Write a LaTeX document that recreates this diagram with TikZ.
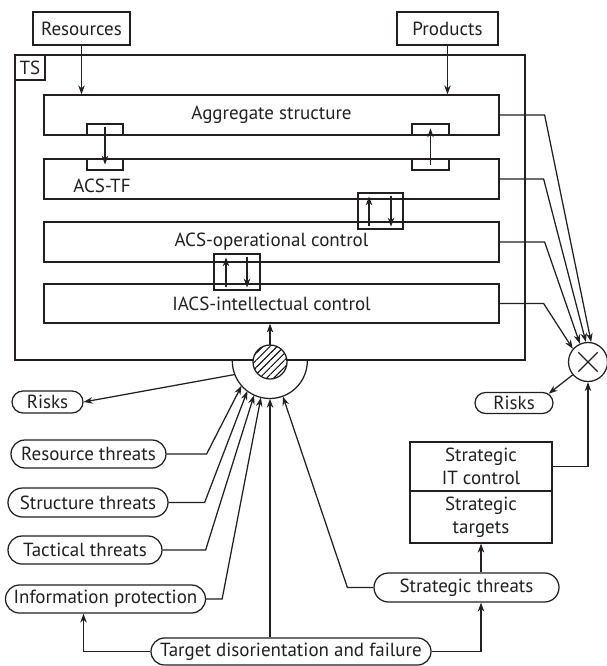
\documentclass[tikz,border=0pt]{standalone}
\usepackage{fontspec}
\setmainfont{PT Sans}
\usetikzlibrary{arrows.meta,shapes.misc,patterns.meta,calc}
\definecolor{ink}{HTML}{231F20}
\tikzset{
  every node/.style={font=\fontsize{19}{23}\selectfont, text=ink},
  wh/.style 2 args={minimum width=#1pt, minimum height=#2pt},
  box/.style={draw=ink, line width=1.25pt, rectangle, inner sep=0pt, align=center},
  pill/.style={draw=ink, line width=1.25pt, rounded rectangle, inner sep=0pt},
  link/.style={draw=ink, line width=1.25pt},
  arr/.style={link, -{Stealth[length=9pt,width=6.5pt]}},
}
\begin{document}
\begin{tikzpicture}[x=1pt,y=-1pt]
\useasboundingbox (0,0) rectangle (606,666);

% inputs
\node[box, wh={97}{33}] (res) at (81.5,28.5) {Resources};
\node[box, wh={101}{33}] (prod) at (447.5,28.5) {Products};

% technological system frame
\node[box, wh={510}{305}] (ts) at (270,207.5) {};
\node[box, wh={30}{25}] (tslab) at (30,67.5) {TS};

% control levels
\node[box, wh={455}{40}] (agg) at (271.5,115) {Aggregate structure};
\node[box, wh={455}{40}] (acstf) at (271.5,179) {};
\node (acstflab) at (102,186) {ACS-TF};
\node[box, wh={455}{40}] (acsop) at (271.5,242) {ACS-operational control};
\node[box, wh={455}{39}] (iacs) at (271.5,303.5) {IACS-intellectual control};

% interface tabs between levels
\node[box, wh={36}{11}] (t1a) at (105,129.5) {};
\node[box, wh={36}{11}] (t1b) at (105,164.5) {};
\node[box, wh={37}{11}] (t2a) at (430.5,129.5) {};
\node[box, wh={37}{11}] (t2b) at (430.5,164.5) {};
\node[box, wh={45}{36}] (sb3) at (380.5,211) {};
\node[box, wh={46}{36}] (sb4) at (237,272) {};

\draw[arr, shorten <=4pt, shorten >=6pt] (t1a.north) -- (t1b.south);
\draw[arr, shorten <=6pt, shorten >=5pt] (t2b.south) -- (t2a.north);
\draw[arr, shorten <=4pt, shorten >=4pt] ([xshift=-11.5pt]sb3.south) -- ([xshift=-11.5pt]sb3.north);
\draw[arr, shorten <=4pt, shorten >=3pt] ([xshift=10.5pt]sb3.north) -- ([xshift=10.5pt]sb3.south);
\draw[arr, shorten <=4pt, shorten >=4pt] ([xshift=-11pt]sb4.south) -- ([xshift=-11pt]sb4.north);
\draw[arr, shorten <=4pt, shorten >=3pt] ([xshift=10pt]sb4.north) -- ([xshift=10pt]sb4.south);

% inputs into the aggregate structure
\draw[arr] (res.south) -- (res.south |- agg.north);
\draw[arr] (prod.south) -- (prod.south |- agg.north);

% threat collector (half ring) and the hatched core
\node[circle, minimum size=75pt, inner sep=0pt] (sc) at (270,361) {};
\draw[link] (sc.west) arc[start angle=180, end angle=360, radius=37.5pt];
\node[circle, draw=ink, line width=1.25pt, minimum size=34pt, inner sep=0pt,
      preaction={fill=white},
      pattern={Lines[angle=45, distance=5pt, line width=1pt]}] (hc) at (270,362) {};
\draw[arr] (hc.north) -- (hc.north |- iacs.south);

% multiplier node
\node[circle, draw=ink, line width=1.25pt, minimum size=39pt, inner sep=0pt] (xc) at (588,362) {};
\draw[link, shorten <=6.5pt, shorten >=6.5pt] (xc.45) -- (xc.225);
\draw[link, shorten <=6.5pt, shorten >=6.5pt] (xc.135) -- (xc.315);

% risks
\node[pill, wh={71}{22}] (risks1) at (47.5,402) {Risks};
\node[pill, wh={78}{21}] (risks2) at (514,403) {Risks};
\draw[arr] (sc.201) -- (risks1.east);
\draw[arr] (xc.220) -- (risks2.15);

% level outputs into the multiplier
\draw[arr] (agg.east) -- ++(45,0) -- (xc.81);
\draw[arr] (acstf.east) -- ++(44,0) -- (xc.96);
\draw[arr] (acsop.east) -- ++(45,0) -- (xc.114);
\draw[arr] (iacs.east) -- ++(44,0) -- (xc.139);

% threats
\node[pill, wh={155}{28}] (rthreat) at (88.5,454) {Resource threats};
\node[pill, wh={160}{29}] (sthreat) at (88,502.5) {Structure threats};
\node[pill, wh={154}{28}] (tthreat) at (85,550) {Tactical threats};
\node[pill, wh={200}{28}] (info) at (105.5,599) {Information protection};
\node[pill, wh={280}{27}] (target) at (291,651.5) {Target disorientation and failure};
\node[pill, wh={185}{29}] (stt) at (466.5,587.5) {Strategic threats};

\draw[arr] (rthreat.east) -- ++(40,0) -- (sc.221);
\draw[arr] (sthreat.east) -- ++(36,0) -- (sc.233);
\draw[arr] (tthreat.east) -- ++(43,0) -- (sc.245);
\draw[arr] (info.east) -- ++(16,0) -- (sc.256);
\draw[arr] (target.north -| sc.south) -- (sc.south);
\draw[arr] (stt.west) -- ++(-26,0) -- (sc.290);

% strategic block
\node[box, wh={142}{49}] (stratA) at (481,466.5) {Strategic\\IT control};
\node[box, wh={142}{52}] (stratB) at (481,517) {Strategic\\targets};
\draw[arr] (stratB.south |- stt.north) -- (stratB.south);
\draw[arr] (stratA.east) -| (xc.south);

% target disorientation feeds
\draw[arr] (target.west) -| ([xshift=-22pt]info.south);
\draw[arr] (target.east) -| (stt.south -| stratB.south);
\end{tikzpicture}
\end{document}
